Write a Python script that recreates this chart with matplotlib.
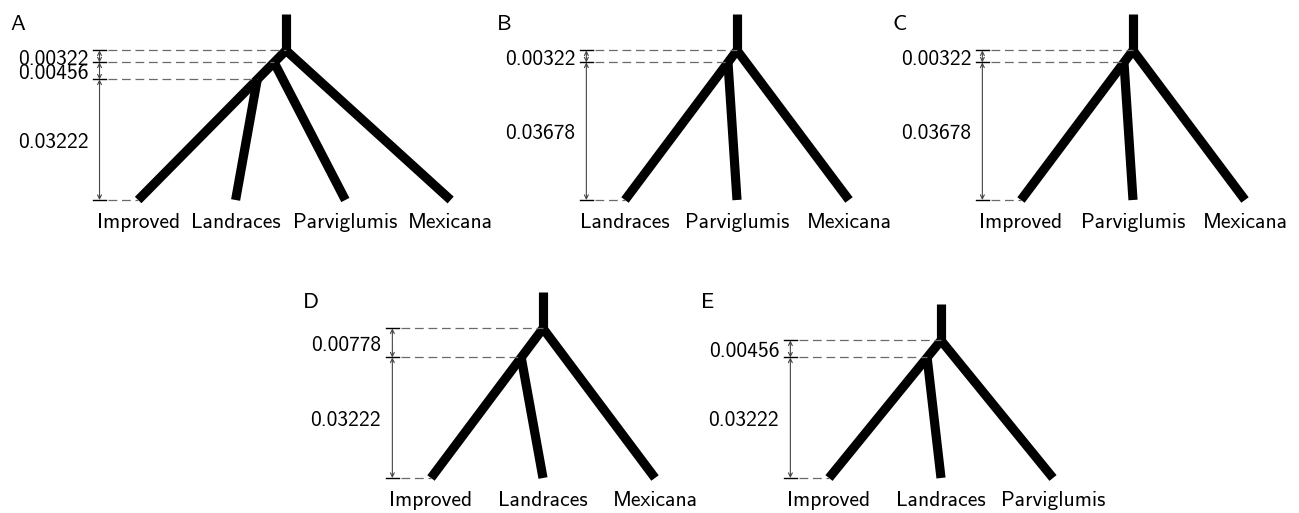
import matplotlib
matplotlib.use('Agg')
import matplotlib.pyplot as plt

plt.rcParams['font.family'] = ['cmss10', 'DejaVu Sans']

# ---------------- data ----------------
panel_letters = ['A', 'B', 'C', 'D', 'E']
leaves_A = ['Improved', 'Landraces', 'Parviglumis', 'Mexicana']
leaves_B = ['Landraces', 'Parviglumis', 'Mexicana']
leaves_C = ['Improved', 'Parviglumis', 'Mexicana']
leaves_D = ['Improved', 'Landraces', 'Mexicana']
leaves_E = ['Improved', 'Landraces', 'Parviglumis']
# branch-length segments from the root downwards
drift_A = [0.00322, 0.00456, 0.03222]
drift_B = [0.00322, 0.03678]
drift_C = [0.00322, 0.03678]
drift_D = [0.00778, 0.03222]
drift_E = [0.00456, 0.03222]
# leaf horizontal positions relative to the root (leaf-spacing units)
leafx_A = [-1.32, -0.45, 0.53, 1.47]
leafx_3 = [-1.0, 0.0, 1.0]

# ---------------- layout ----------------
W, H, DPI = 1299, 513, 100
SX = 112.0    # px per leaf-spacing unit
SY = 3740.0   # px per drift unit
STUB = 0.0098
LW = 6.6
FS = 15.5
# root pixel x, leaf-level pixel y
anchors = [(286, 200), (737, 200), (1133, 200), (543, 478), (941, 478)]

panels = [
    (leaves_A, leafx_A, drift_A),
    (leaves_B, leafx_3, drift_B),
    (leaves_C, leafx_3, drift_C),
    (leaves_D, leafx_3, drift_D),
    (leaves_E, leafx_3, drift_E),
]

fig = plt.figure(figsize=(W / DPI, H / DPI), dpi=DPI)
fig.patch.set_facecolor('white')


def make_axes(rx, ly):
    left, right = rx - 310, rx + 230
    top, bottom = ly - 200, ly + 45
    ax = fig.add_axes([left / W, 1 - bottom / H, (right - left) / W, (bottom - top) / H])
    ax.set_xlim((left - rx) / SX, (right - rx) / SX)
    ax.set_ylim((ly - bottom) / SY, (ly - top) / SY)
    ax.set_axis_off()
    ax.patch.set_alpha(0)
    return ax


def draw(ax, leaves, leafx, drift, letter):
    Htot = sum(drift)
    n = len(leaves)
    x0, xr = leafx[0], 0.0
    heights = [Htot]
    for d in drift[:-1]:
        heights.append(heights[-1] - d)
    nodex = [xr + (x0 - xr) * (1 - h / Htot) for h in heights]

    # tree
    ax.plot([xr, xr], [Htot, Htot + STUB], color='k', lw=LW, solid_capstyle='butt')
    ax.plot([x0, xr, leafx[-1]], [0, Htot, 0], color='k', lw=LW,
            solid_capstyle='butt', solid_joinstyle='miter')
    for i in range(1, len(heights)):
        ax.plot([nodex[i], leafx[n - 1 - i]], [heights[i], 0], color='k', lw=LW,
                solid_capstyle='butt')

    # measurement guides
    arrow_x = x0 - 0.345
    tick = 6.5 / SX
    levels = heights + [0.0]
    ends = nodex + [x0]
    for lv, ex in zip(levels, ends):
        ax.plot([arrow_x + tick + 2 / SX, ex], [lv, lv], color='#6a6a6a', lw=0.9,
                linestyle=(0, (7, 3.8)))
        ax.plot([arrow_x - tick, arrow_x + tick], [lv, lv], color='k', lw=1.0)
    for k, d in enumerate(drift):
        top, bot = levels[k], levels[k + 1]
        ax.annotate('', xy=(arrow_x, bot), xytext=(arrow_x, top),
                    arrowprops=dict(arrowstyle='<->', color='#444444', lw=0.8,
                                    shrinkA=0, shrinkB=0, mutation_scale=7))
        ax.annotate(f'{d:.5f}', xy=(arrow_x, (top + bot) / 2), xytext=(-8, -2),
                    textcoords='offset points', ha='right', va='center', fontsize=FS)

    # leaf labels
    for name, lx in zip(leaves, leafx):
        ax.annotate(name, xy=(lx, 0), xytext=(0, -9), textcoords='offset points',
                    ha='center', va='top', fontsize=FS)

    # panel letter
    ax.text(x0 - 128 / SX, 185 / SY, letter, ha='left', va='top', fontsize=FS + 0.5)


for (leaves, leafx, drift), letter, (rx, ly) in zip(panels, panel_letters, anchors):
    ax = make_axes(rx, ly)
    draw(ax, leaves, leafx, drift, letter)

fig.savefig('out.png', dpi=DPI, facecolor='white')
